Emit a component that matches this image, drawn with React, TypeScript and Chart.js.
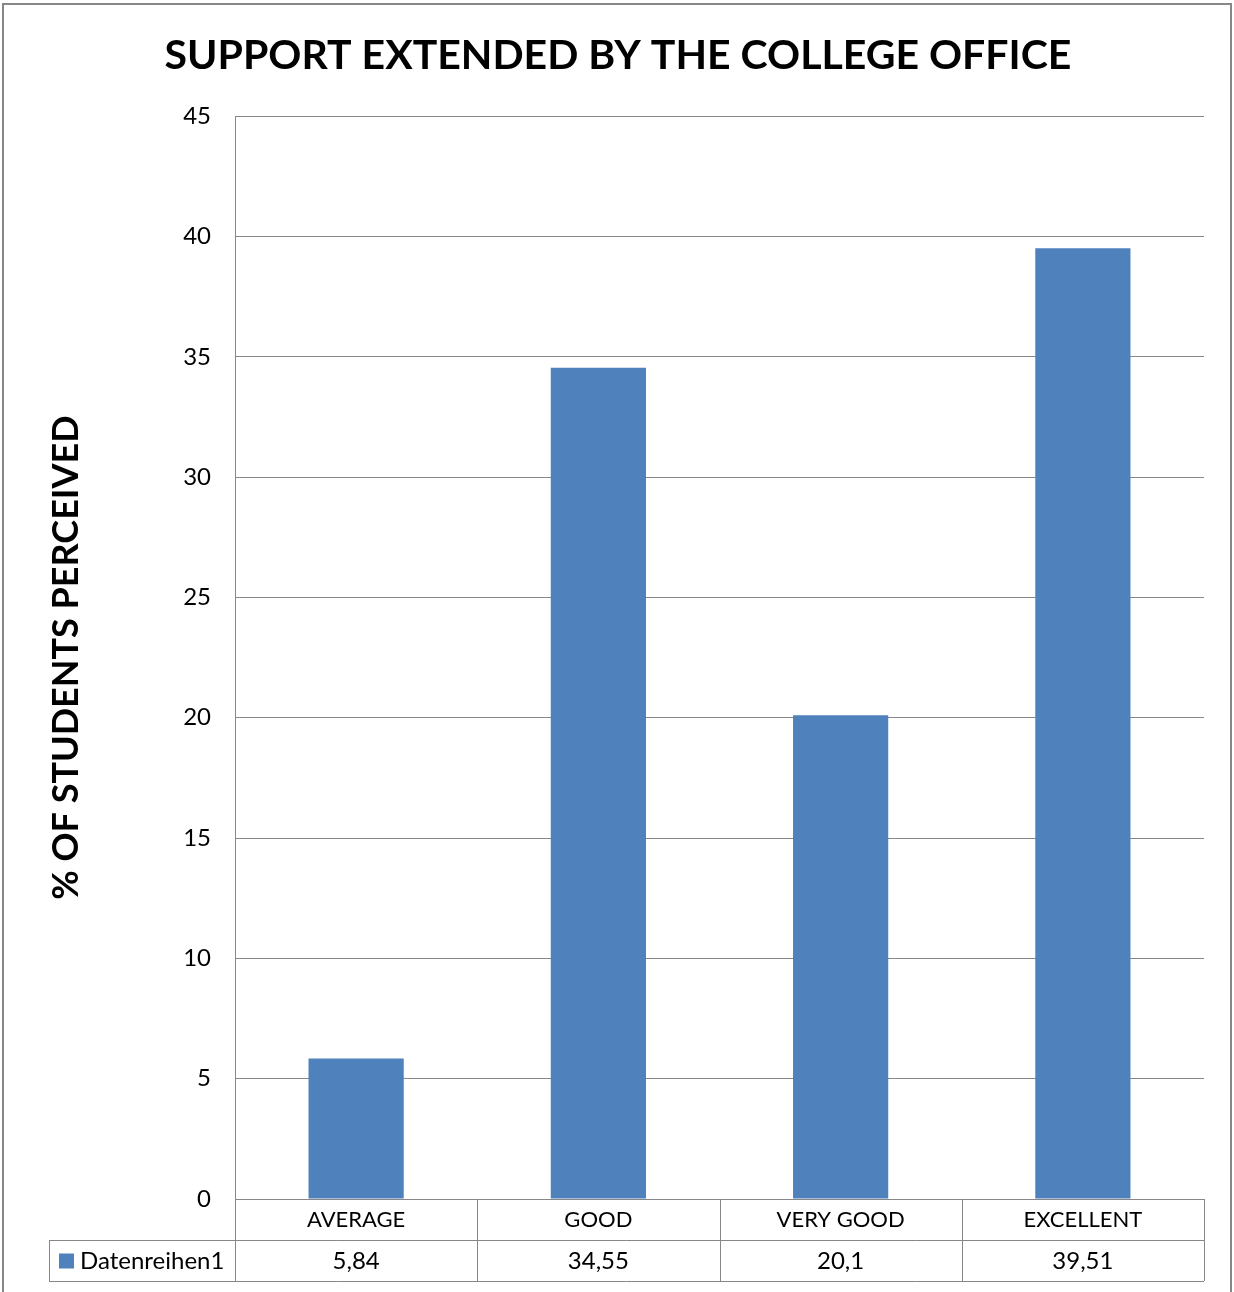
import React, { useEffect, useRef } from "react";
import { Chart, registerables } from "chart.js";

Chart.register(...registerables);

const categories = ["AVERAGE", "GOOD", "VERY GOOD", "EXCELLENT"];
const seriesName = "Datenreihen1";
const seriesValues = [5.84, 34.55, 20.1, 39.51];
const yTicks = { min: 0, max: 45, step: 5 };
const chartTitle = "SUPPORT EXTENDED BY THE COLLEGE OFFICE";
const yTitle = "% OF STUDENTS PERCEIVED";

const BAR = "#4F81BD";
const GRID = "#878787";
const FONT = "Lato";

const formatValue = (v: number) => String(v).replace(".", ",");

const tablePlugin = {
  id: "dataTable",
  beforeDraw(chart: any) {
    const ctx = chart.ctx;
    ctx.save();
    ctx.fillStyle = "#fff";
    ctx.fillRect(0, 0, chart.width, chart.height);
    ctx.strokeStyle = GRID;
    ctx.lineWidth = 2;
    ctx.strokeRect(3, 4, 1228, 1400);
    ctx.restore();
  },
  afterDraw(chart: any) {
    const ctx = chart.ctx;
    const area = chart.chartArea;
    const x = chart.scales.x;
    const n = categories.length;
    const colW = (area.right - area.left) / n;
    const y1 = area.bottom;
    const rowH = 41;
    const y2 = y1 + rowH;
    const y3 = y2 + rowH;
    const legendLeft = 49;
    ctx.save();
    ctx.strokeStyle = GRID;
    ctx.lineWidth = 1;
    ctx.beginPath();
    ctx.moveTo(legendLeft, y2 + 0.5);
    ctx.lineTo(area.right, y2 + 0.5);
    ctx.moveTo(legendLeft, y3 + 0.5);
    ctx.lineTo(area.right, y3 + 0.5);
    ctx.moveTo(legendLeft + 0.5, y2);
    ctx.lineTo(legendLeft + 0.5, y3);
    for (let i = 0; i <= n; i++) {
      const bx = Math.round(area.left + i * colW) + 0.5;
      ctx.moveTo(bx, y1);
      ctx.lineTo(bx, y3);
    }
    ctx.stroke();

    ctx.fillStyle = chart.data.datasets[0].backgroundColor;
    ctx.fillRect(59, (y2 + y3) / 2 - 7, 15, 15);
    ctx.fillStyle = "#000";
    ctx.font = `24px ${FONT}`;
    ctx.textBaseline = "middle";
    ctx.textAlign = "left";
    ctx.fillText(chart.data.datasets[0].label, 80, (y2 + y3) / 2 + 1);

    ctx.textAlign = "center";
    const data = chart.data.datasets[0].data as number[];
    data.forEach((v, i) => {
      const cx = x.getPixelForValue(i);
      ctx.fillText(formatValue(v), cx, (y2 + y3) / 2 + 1);
    });
    ctx.restore();
  },
};

export default function App() {
  const ref = useRef<HTMLCanvasElement | null>(null);
  useEffect(() => {
    if (!ref.current) return;
    const chart = new Chart(ref.current, {
      type: "bar",
      data: {
        labels: categories,
        datasets: [
          {
            label: seriesName,
            data: seriesValues,
            backgroundColor: BAR,
            borderWidth: 0,
            barPercentage: 0.393,
            categoryPercentage: 1,
          },
        ],
      },
      options: {
        responsive: false,
        animation: false,
        devicePixelRatio: 1,
        layout: { padding: { left: 32, right: 30, top: 0, bottom: 11 } },
        plugins: {
          legend: { display: false },
          tooltip: { enabled: false },
          title: {
            display: true,
            text: chartTitle,
            color: "#000",
            font: { family: FONT, size: 41, weight: "bold" },
            padding: { top: 31, bottom: 36 },
          },
        },
        scales: {
          x: {
            afterFit: (s: any) => {
              s.height = 82;
            },
            grid: { display: false, drawTicks: false, tickLength: 0 },
            border: { display: true, color: GRID, width: 1 },
            ticks: {
              color: "#000",
              font: { family: FONT, size: 22 },
              padding: 8,
              maxRotation: 0,
              autoSkip: false,
            },
          },
          y: {
            min: yTicks.min,
            max: yTicks.max,
            afterFit: (s: any) => {
              s.width = 203;
            },
            grid: { color: GRID, lineWidth: 1, drawTicks: false },
            border: { display: true, color: GRID, width: 1 },
            ticks: {
              stepSize: yTicks.step,
              color: "#000",
              font: { family: FONT, size: 24 },
              padding: 24,
            },
            title: {
              display: true,
              text: yTitle,
              color: "#000",
              font: { family: FONT, size: 36, weight: "bold" },
              padding: { top: 13, bottom: 0 },
            },
          },
        },
      },
      plugins: [tablePlugin],
    });
    return () => chart.destroy();
  }, []);
  return (
    <div
      style={{
        position: "fixed",
        left: 0,
        top: 0,
        width: 1234,
        height: 1292,
        background: "#fff",
      }}
    >
      <canvas ref={ref} width={1234} height={1292} />
    </div>
  );
}
